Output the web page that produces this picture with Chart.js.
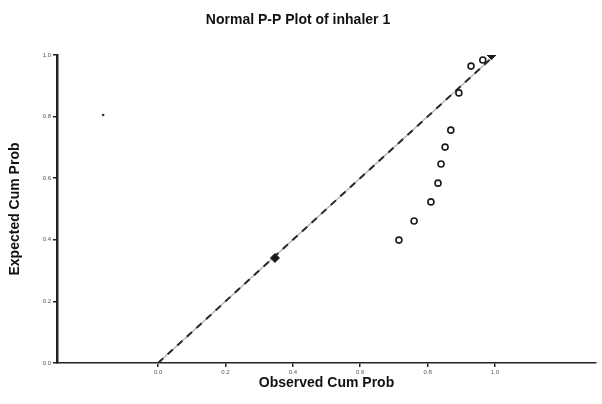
<!DOCTYPE html>
<html>
<head>
<meta charset="utf-8">
<script src="https://cdn.jsdelivr.net/npm/chart.js@4"></script>
<style>
  html, body { margin: 0; padding: 0; background: #fff; }
  #wrap { width: 602px; height: 404px; }
</style>
</head>
<body>
<div id="wrap"><canvas id="pp" width="602" height="404"></canvas></div>
<script>
// Observed vs expected cumulative probabilities (hollow markers)
const observedCum = [0.715, 0.760, 0.810, 0.831, 0.840, 0.852, 0.869, 0.893, 0.929, 0.964];
const expectedCum = [0.399, 0.461, 0.523, 0.584, 0.646, 0.701, 0.756, 0.877, 0.964, 0.984];

// Solid markers
const solidObs = [0.347, 0.990];
const solidExp = [0.341, 1.000];

// Stray dot in the upper-left region
const strayObs = [-0.163];
const strayExp = [0.805];

// Reference diagonal endpoints
const diagonal = [0, 1];

// Axis ticks
const xTicks = [0.0, 0.2, 0.4, 0.6, 0.8, 1.0];
const yTicks = [0.0, 0.2, 0.4, 0.6, 0.8, 1.0];

const toPoints = (xs, ys) => xs.map((x, i) => ({ x: x, y: ys[i] }));
const diagPoints = diagonal.map(v => ({ x: v, y: v }));

const FONT = "'Liberation Sans', Arial, sans-serif";

new Chart(document.getElementById('pp'), {
  type: 'scatter',
  data: {
    datasets: [
      {
        type: 'line',
        data: diagPoints,
        borderColor: '#b8b8b8',
        borderWidth: 1.5,
        pointRadius: 0,
        fill: false,
        order: 5
      },
      {
        type: 'line',
        data: diagPoints,
        borderColor: '#2a2a2a',
        borderWidth: 2,
        borderDash: [7, 6],
        pointRadius: 0,
        fill: false,
        order: 4
      },
      {
        data: toPoints(observedCum, expectedCum),
        pointStyle: 'circle',
        pointRadius: 3,
        borderWidth: 1.6,
        borderColor: '#1a1a1a',
        backgroundColor: '#ffffff',
        order: 1
      },
      {
        data: toPoints(solidObs, solidExp),
        pointStyle: 'rectRot',
        pointRadius: 4.5,
        borderWidth: 1,
        borderColor: '#1a1a1a',
        backgroundColor: '#1a1a1a',
        order: 0
      },
      {
        data: toPoints(strayObs, strayExp),
        pointStyle: 'circle',
        pointRadius: 1.3,
        borderWidth: 0,
        backgroundColor: '#333333',
        order: 0
      }
    ]
  },
  options: {
    responsive: false,
    animation: false,
    layout: { padding: { left: 0, right: 6, top: 0, bottom: 0 } },
    plugins: {
      legend: { display: false },
      tooltip: { enabled: false },
      title: {
        display: true,
        text: 'Normal P-P Plot of inhaler 1',
        color: '#111',
        font: { family: FONT, size: 14, weight: 'bold', lineHeight: 1.2 },
        padding: { top: 12, bottom: 26.2 }
      }
    },
    scales: {
      x: {
        type: 'linear',
        min: -0.3,
        max: 1.3,
        afterBuildTicks: (scale) => { scale.ticks = xTicks.map(v => ({ value: v })); },
        afterFit: (scale) => { scale.height = 41; },
        border: { display: true, color: '#222', width: 1.5 },
        grid: { drawOnChartArea: false, drawTicks: true, tickLength: 4, color: '#222', lineWidth: 1.5 },
        ticks: {
          color: '#555',
          font: { family: FONT, size: 6 },
          padding: 2,
          maxRotation: 0,
          callback: (v) => Number(v).toFixed(1)
        },
        title: {
          display: true,
          text: 'Observed Cum Prob',
          color: '#111',
          font: { family: FONT, size: 14, weight: 'bold' },
          padding: { top: 2, bottom: 12.5 }
        }
      },
      y: {
        type: 'linear',
        min: 0,
        max: 1,
        afterBuildTicks: (scale) => { scale.ticks = yTicks.map(v => ({ value: v })); },
        afterFit: (scale) => { scale.width = 57; },
        border: { display: true, color: '#222', width: 2.5 },
        grid: { drawOnChartArea: false, drawTicks: true, tickLength: 4, color: '#222', lineWidth: 1.5 },
        ticks: {
          color: '#555',
          font: { family: FONT, size: 6 },
          padding: 2,
          callback: (v) => Number(v).toFixed(1)
        },
        title: {
          display: true,
          text: 'Expected Cum Prob',
          color: '#111',
          font: { family: FONT, size: 14, weight: 'bold' },
          padding: { top: 7, bottom: 6 }
        }
      }
    }
  }
});
</script>
</body>
</html>
